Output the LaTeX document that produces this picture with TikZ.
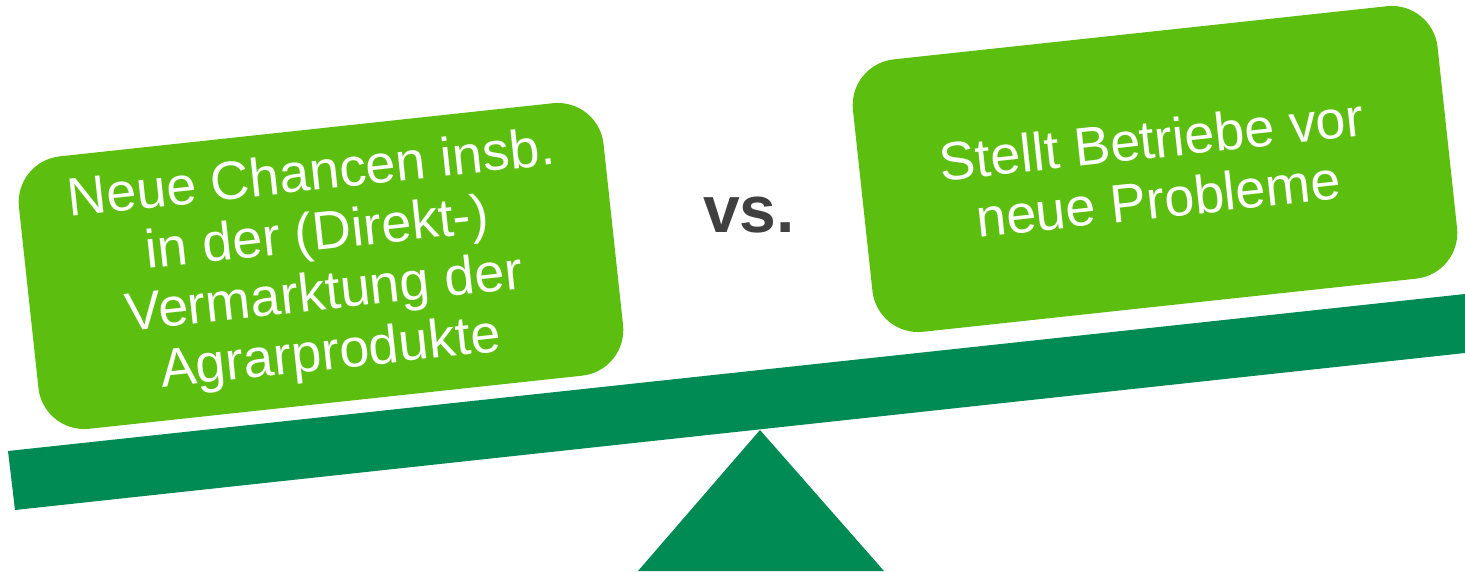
\documentclass[tikz,border=0pt]{standalone}
\usepackage{fontspec}
\setmainfont{Liberation Sans}
\definecolor{lightgreen}{HTML}{5CBE0E}
\definecolor{darkgreen}{HTML}{008A54}
\definecolor{vsgray}{HTML}{404040}
\begin{document}
\begin{tikzpicture}[x=1pt,y=-1pt,
  card/.style={fill=lightgreen, draw=none, rounded corners=46pt, rotate=6.15,
    minimum width=588pt, minimum height=274pt, inner sep=0pt, align=center,
    text=white, font=\fontsize{54}{60}\selectfont},
  vstext/.style={text=vsgray, font=\fontsize{66}{70}\selectfont\bfseries, inner sep=0pt}]
\useasboundingbox (0,0) rectangle (1465,571);
% beam
\fill[darkgreen] (8,451) -- (15,510) -- (1465,353) -- (1465,294) -- cycle;
% fulcrum
\fill[darkgreen] (760,430) -- (884,571) -- (638,571) -- cycle;
% cards
\node[card] (left) at (321,266) {Neue Chancen insb.\\in der (Direkt-)\\Vermarktung der\\Agrarprodukte};
\node[card] (right) at (1155,169) {Stellt Betriebe vor\\neue Probleme};
\node[vstext] (vs) at (749,215) {vs.};
\end{tikzpicture}
\end{document}
